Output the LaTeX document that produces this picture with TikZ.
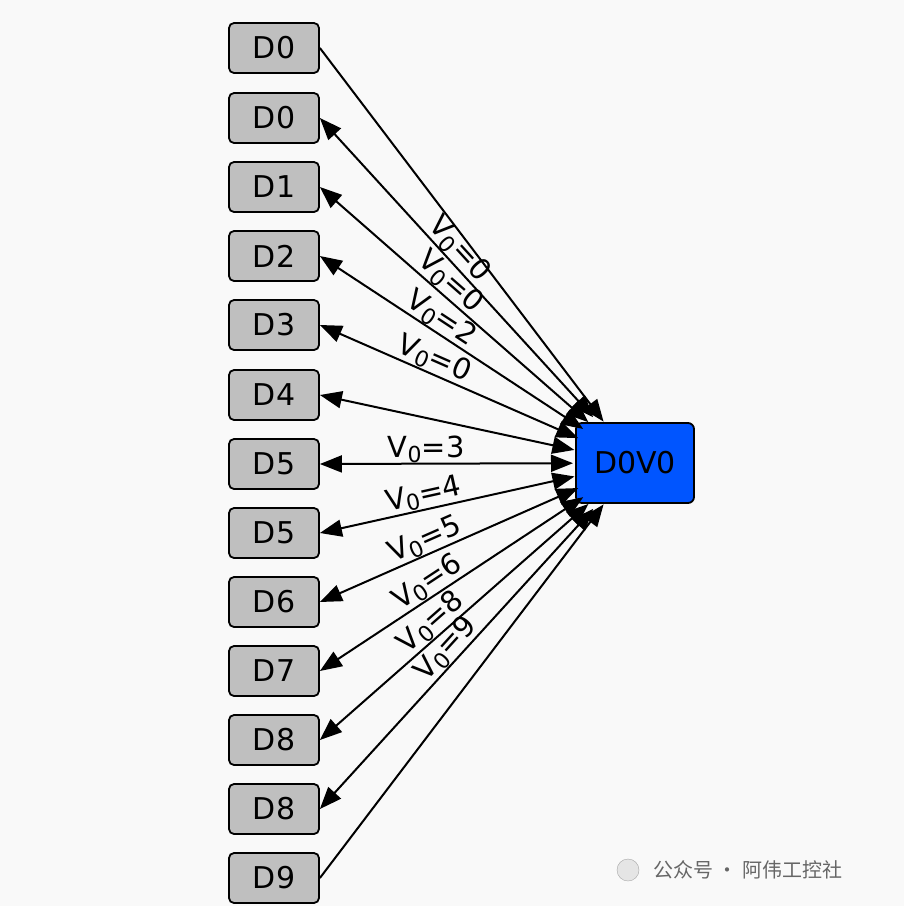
\documentclass[tikz,border=0pt]{standalone}
\usepackage{fontspec}
\setmainfont{DejaVu Sans}
\newfontfamily\cjk{Noto Sans CJK SC}
\usetikzlibrary{arrows.meta,calc}
\newcommand{\vz}[1]{V\raisebox{-5pt}{\fontsize{22}{24}\selectfont 0}=#1}
\begin{document}
\begin{tikzpicture}[x=1pt,y=-1pt,
  dnode/.style={draw=black,line width=1.8pt,fill=gray!50,rounded corners=5pt,minimum width=90pt,minimum height=50pt,inner sep=0pt,font=\fontsize{30}{32}\selectfont},
  cnode/.style={draw=black,line width=1.8pt,fill={rgb,255:red,0;green,85;blue,255},rounded corners=6pt,minimum width=118pt,minimum height=80pt,inner sep=0pt,font=\fontsize{30}{32}\selectfont},
  conn/.style={line width=2pt,-{Triangle[length=22pt,width=17pt]}},
  bconn/.style={line width=2pt,{Triangle[length=22pt,width=17pt]}-{Triangle[length=22pt,width=17pt]}},
  lab/.style={sloped,above,inner sep=0pt,font=\fontsize{29}{31}\selectfont}]
\fill[white!97!yellow!50!gray!10] (0,0) rectangle (904,906);
\node[cnode] (c) at (635,463) {D0V0};
\foreach \n/\t/\y in {1/D0/48,2/D0/118,3/D1/187,4/D2/256,5/D3/325,6/D4/395,7/D5/464,8/D5/533,9/D6/602,10/D7/671,11/D8/740,12/D8/809,13/D9/878}
  {\node[dnode] (d\n) at (274,\y) {\t};
   \coordinate (e\n) at ($(c)!62pt!(d\n.east)$);}
\coordinate (e1) at ($(c)!52pt!(d1.east)$);
\coordinate (e13) at ($(c)!52pt!(d13.east)$);
\draw[conn] (d1.east) -- (e1);
\draw[bconn] (d2.east) -- node[lab,pos=0.47] {\vz0} (e2);
\draw[bconn] (d3.east) -- node[lab,pos=0.45] {\vz0} (e3);
\draw[bconn] (d4.east) -- node[lab,pos=0.43] {\vz2} (e4);
\draw[bconn] (d5.east) -- node[lab,pos=0.42] {\vz0} (e5);
\draw[bconn] (d6.east) -- (e6);
\draw[bconn] (d7.east) -- node[lab,pos=0.42] {\vz3} (e7);
\draw[bconn] (d8.east) -- node[lab,pos=0.42] {\vz4} (e8);
\draw[bconn] (d9.east) -- node[lab,pos=0.43] {\vz5} (e9);
\draw[bconn] (d10.east) -- node[lab,pos=0.44] {\vz6} (e10);
\draw[bconn] (d11.east) -- node[lab,pos=0.45] {\vz8} (e11);
\draw[bconn] (d12.east) -- node[lab,pos=0.5] {\vz9} (e12);
\draw[conn] (d13.east) -- (e13);
\node[text=gray!80!black,font=\cjk\fontsize{20}{22}\selectfont,anchor=west] (wm) at (650,870) {公众号 · 阿伟工控社};
\node[draw=gray!70,fill=gray!20,circle,minimum size=22pt] (ic) at (628,870) {};
\end{tikzpicture}
\end{document}
